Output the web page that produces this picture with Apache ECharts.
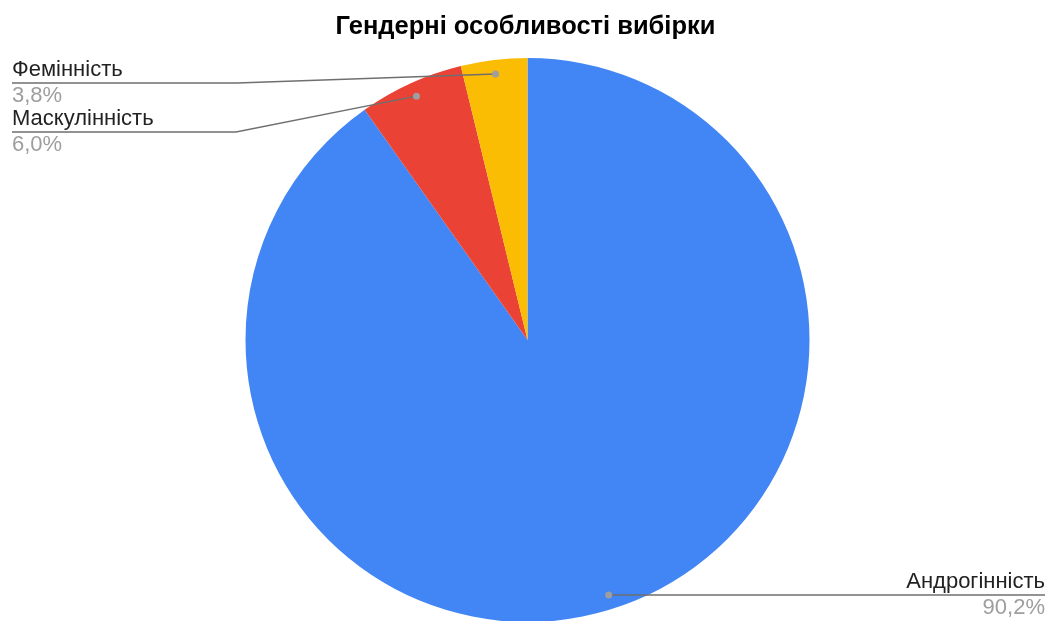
<!DOCTYPE html>
<html>
<head>
<meta charset="utf-8">
<script src="https://cdn.jsdelivr.net/npm/echarts@6/dist/echarts.min.js"></script>
<style>
  html, body { margin: 0; padding: 0; background: #fff; }
  #chart { width: 1051px; height: 621px; }
</style>
</head>
<body>
<div id="chart"></div>
<script>
// Gender traits of the sample (percent of respondents)
const categories = ['Андрогінність', 'Маскулінність', 'Фемінність'];
const shares = [90.2, 6.0, 3.8];
const valueLabels = ['90,2%', '6,0%', '3,8%'];
const sliceColors = ['#4285f4', '#ea4335', '#fbbc04'];

const CX = 527.5, CY = 340, R = 282;
const FONT = '"Liberation Sans", Arial, sans-serif';
const total = shares.reduce((a, b) => a + b, 0);

// mid-angle anchor of each slice, a little inside the outer edge
function anchorOf(i) {
  let before = 0;
  for (let k = 0; k < i; k++) before += shares[k];
  const t = (before + shares[i] / 2) / total * Math.PI * 2;
  const r = R * 0.95;
  return [CX + r * Math.sin(t), CY - r * Math.cos(t)];
}

// where each label block sits and how its leader runs
const labelPlacement = [
  { side: 'right', x: 1045, lineY: 595 },
  { side: 'left', x: 12, lineY: 132, elbowX: 236 },
  { side: 'left', x: 12, lineY: 83, elbowX: 237 }
];

function leaderPoints(i) {
  const cfg = labelPlacement[i];
  const a = anchorOf(i);
  if (cfg.side === 'right') return [[a[0], cfg.lineY], [cfg.x, cfg.lineY]];
  return [a, [cfg.elbowX, cfg.lineY], [cfg.x, cfg.lineY]];
}

const chart = echarts.init(document.getElementById('chart'), null, { renderer: 'canvas' });

const leaders = [];
categories.forEach((_, i) => {
  const pts = leaderPoints(i);
  leaders.push({
    type: 'polyline',
    shape: { points: pts },
    style: { stroke: '#6f6f6f', lineWidth: 1.3, fill: null },
    z: 100
  });
  leaders.push({
    type: 'circle',
    shape: { cx: pts[0][0], cy: pts[0][1], r: 3.5 },
    style: { fill: '#9e9e9e' },
    z: 101
  });
});

chart.setOption({
  animation: false,
  title: {
    text: 'Гендерні особливості вибірки',
    left: 'center',
    top: 9,
    textStyle: {
      fontFamily: FONT,
      fontSize: 25.5,
      fontWeight: 'bold',
      color: '#000'
    }
  },
  graphic: leaders,
  series: [{
    type: 'pie',
    center: [CX, CY],
    radius: [0, R],
    startAngle: 90,
    clockwise: true,
    data: categories.map((name, i) => ({
      name,
      value: shares[i],
      itemStyle: { color: sliceColors[i] }
    })),
    itemStyle: { borderWidth: 0 },
    emphasis: { disabled: true },
    label: {
      show: true,
      position: 'outside',
      formatter: p => '{n|' + p.name + '}\n{v|' + valueLabels[p.dataIndex] + '}',
      rich: {
        n: { fontFamily: FONT, fontSize: 22, color: '#222', lineHeight: 26 },
        v: { fontFamily: FONT, fontSize: 22, color: '#9e9e9e', lineHeight: 26 }
      }
    },
    labelLine: { show: false },
    labelLayout: params => {
      const cfg = labelPlacement[params.dataIndex];
      return {
        x: cfg.x,
        y: cfg.lineY,
        align: cfg.side,
        verticalAlign: 'middle'
      };
    }
  }]
});
</script>
</body>
</html>
